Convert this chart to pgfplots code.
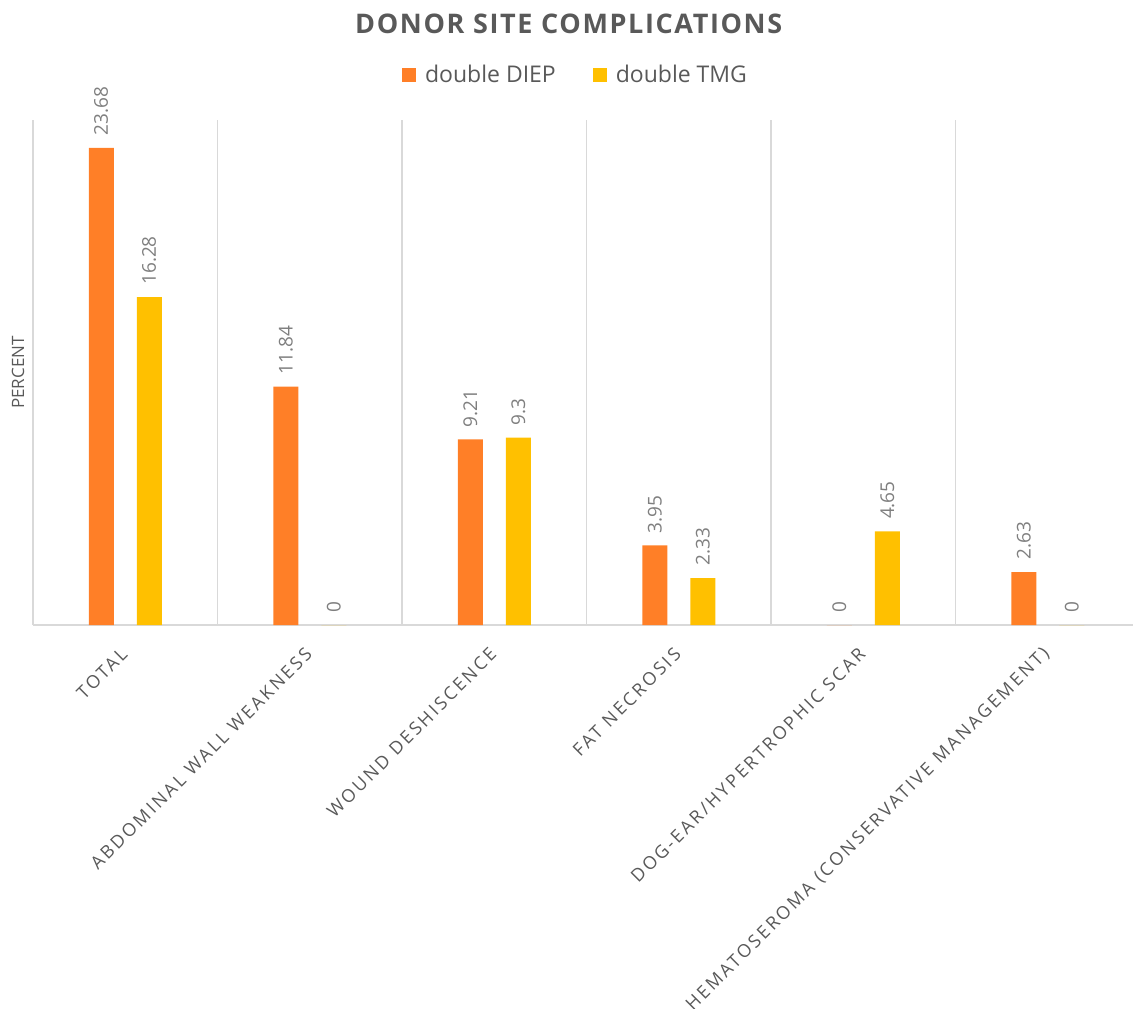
\documentclass[border=0pt]{standalone}
\usepackage{pgfplots}
\pgfplotsset{compat=1.18}
\usepackage{fontspec}
\setmainfont{Open Sans}
\newfontfamily\spacedfont[LetterSpace=14]{Open Sans}
\newfontfamily\titlefont[LetterSpace=6]{Open Sans}
\definecolor{cOrange}{HTML}{FF7F27}
\definecolor{cYellow}{HTML}{FFC000}
\definecolor{cText}{HTML}{595959}
\definecolor{cLabel}{HTML}{7F7F7F}
\definecolor{cGrid}{HTML}{D9D9D9}
\begin{document}
\begin{tikzpicture}
\useasboundingbox (0,0) rectangle (566.5pt,504pt);
\begin{axis}[
  at={(16.5pt,191.5pt)}, anchor=south west,
  scale only axis, width=550pt, height=252.5pt,
  xmin=-0.5, xmax=5.462, ymin=0, ymax=25.07,
  clip=false,
  ybar=11.5pt, bar width=12.5pt,
  axis x line*=bottom, axis y line=none,
  x axis line style={cGrid, line width=0.8pt},
  ytick=\empty,
  xtick={0,1,2,3,4,5},
  xticklabels={TOTAL, ABDOMINAL WALL WEAKNESS, WOUND DESHISCENCE, FAT NECROSIS, DOG-EAR/HYPERTROPHIC SCAR, HEMATOSEROMA (CONSERVATIVE MANAGEMENT)},
  major tick length=0pt,
  xticklabel style={xshift=-0.5pt, yshift=-13pt, rotate=45, anchor=east, font=\spacedfont\fontsize{9}{11}\selectfont, text=cText, inner sep=0pt},
  extra x ticks={-0.5,0.5,1.5,2.5,3.5,4.5},
  extra x tick labels={},
  extra x tick style={grid=major, major grid style={cGrid, line width=0.8pt}},
  nodes near coords,
  nodes near coords align={horizontal},
  every node near coord/.append style={rotate=90, anchor=west, font=\fontsize{9.5}{11}\selectfont, text=cLabel, inner xsep=6pt, inner ysep=0pt},
  /pgf/number format/assume math mode=true,
  title={DONOR SITE COMPLICATIONS},
  title style={at={(0.487,1.166)}, anchor=center, font=\titlefont\bfseries\fontsize{13.5}{15}\selectfont, text=cText},
  legend style={draw=none, fill=none, at={(0.4964,1.089)}, anchor=center, legend columns=2, font=\fontsize{11.5}{13}\selectfont, text=cText, /tikz/every even column/.append style={column sep=14pt}, nodes={inner xsep=4.5pt}},
  legend cell align=left,
]
\addplot[fill=cOrange, draw=none, legend image code/.code={\fill[cOrange] (0pt,-3.5pt) rectangle (7pt,3.5pt);}] coordinates {(0,23.68) (1,11.84) (2,9.21) (3,3.95) (4,0) (5,2.63)};
\addplot[fill=cYellow, draw=none, legend image code/.code={\fill[cYellow] (0pt,-3.5pt) rectangle (7pt,3.5pt);}] coordinates {(0,16.28) (1,0) (2,9.3) (3,2.33) (4,4.65) (5,0)};
\legend{double DIEP, double TMG}
\node[rotate=90, font=\fontsize{8.5}{10}\selectfont, text=cText] at (axis description cs:-0.0136,0.5) {PERCENT};
\end{axis}
\end{tikzpicture}
\end{document}
